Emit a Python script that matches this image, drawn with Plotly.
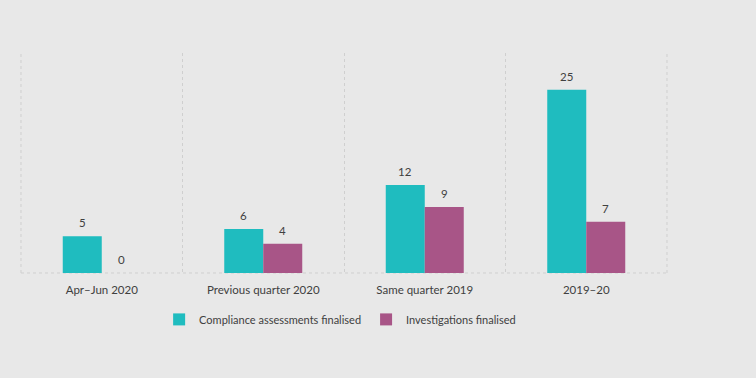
import plotly.graph_objects as go

categories = ["Apr\u2013Jun 2020", "Previous quarter 2020", "Same quarter 2019", "2019\u201320"]
compliance = [5, 6, 12, 25]
investigations = [0, 4, 9, 7]

teal = "#1fbcbf"
purple = "#a85587"
bg = "#e8e8e8"
txt = "#404040"
grid = "#cfcfcf"

fig = go.Figure()
fig.add_trace(go.Bar(x=categories, y=compliance, name="Compliance assessments finalised",
                     marker=dict(color=teal, line=dict(width=0))))
fig.add_trace(go.Bar(x=categories, y=investigations, name="Investigations finalised",
                     marker=dict(color=purple, line=dict(width=0))))

# value labels above bars
for vals, shift in ((compliance, -19.5), (investigations, 19.5)):
    for c, v in zip(categories, vals):
        fig.add_annotation(x=c, y=v, text=str(v), showarrow=False, xshift=shift,
                           yanchor="bottom", yshift=5,
                           font=dict(size=11.5, color=txt))

frame = dict(type="line", line=dict(color=grid, width=1, dash="dot"), layer="below")
fig.add_shape(xref="paper", yref="paper", x0=0, x1=0, y0=0, y1=1, **frame)
fig.add_shape(xref="paper", yref="paper", x0=1, x1=1, y0=0, y1=1, **frame)
fig.add_shape(xref="paper", yref="paper", x0=0, x1=1, y0=0, y1=0, **frame)

fig.update_layout(
    width=756, height=378,
    paper_bgcolor=bg, plot_bgcolor=bg,
    margin=dict(l=21, r=89, t=53, b=105),
    barmode="group", bargap=0.517, bargroupgap=0,
    font=dict(family="Lato, sans-serif", size=11.5, color=txt),
    showlegend=True,
    legend=dict(orientation="h", x=0.494, xanchor="center", y=-0.145, yanchor="top",
                font=dict(size=11, color=txt), traceorder="normal"),
    xaxis=dict(tickson="boundaries", showgrid=True, gridcolor=grid, griddash="dot",
               gridwidth=1, ticks="", showline=False, zeroline=False,
               ticklabelstandoff=8, tickfont=dict(size=11.5, color=txt)),
    yaxis=dict(range=[0, 30], showticklabels=False, showgrid=False,
               zeroline=False, showline=False),
)

fig.write_html("out.html", config={"displayModeBar": False},
               post_script="document.body.style.margin='0';")
